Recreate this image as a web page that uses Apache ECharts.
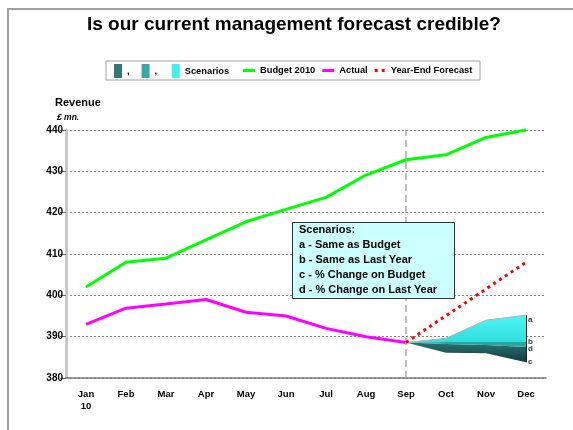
<!DOCTYPE html>
<html>
<head>
<meta charset="utf-8">
<script src="https://cdn.jsdelivr.net/npm/echarts@6/dist/echarts.min.js"></script>
<style>
html,body{margin:0;padding:0;background:#fff;}
#chart{width:573px;height:430px;}
</style>
</head>
<body>
<div id="chart"></div>
<script>
// ---- data ----
const months = ['Jan','Feb','Mar','Apr','May','Jun','Jul','Aug','Sep','Oct','Nov','Dec'];
const xLabels = ['Jan\n10','Feb','Mar','Apr','May','Jun','Jul','Aug','Sep','Oct','Nov','Dec'];
const budget = [402, 408, 409, 413.4, 417.8, 420.8, 423.7, 429.1, 432.8, 434, 438.2, 440];
const actual = [393, 396.9, 397.9, 399, 395.9, 395, 392, 390, 388.6, '-', '-', '-'];
const forecast = ['-','-','-','-','-','-','-','-', 388.6, '-', '-', 408];
const scenA = ['-','-','-','-','-','-','-','-', 388.6, 389.6, 394, 395.2];
const scenB = ['-','-','-','-','-','-','-','-', 388.6, 388.7, 388.7, 388.7];
const scenD = ['-','-','-','-','-','-','-','-', 388.6, 388.2, 388, 387.5];
const scenC = ['-','-','-','-','-','-','-','-', 388.6, 386.1, 386, 383.8];
const scenLetters = ['a','b','d','c'];
const yTicks = {min: 380, max: 440, interval: 10};
const boxLines = ['Scenarios:','a - Same as Budget','b - Same as Last Year','c - % Change on Budget','d - % Change on Last Year'];

const FONT = '"Liberation Sans", Arial, sans-serif';
const diff = (top, bot) => top.map((v, i) => (v === '-' || bot[i] === '-') ? '-' : +(v - bot[i]).toFixed(2));
const last = a => a[a.length - 1];

const chart = echarts.init(document.getElementById('chart'), null, {renderer: 'canvas'});

const option = {
  animation: false,
  title: {
    text: 'Is our current management forecast credible?',
    left: 82, top: 10,
    textStyle: {fontFamily: FONT, fontSize: 19, fontWeight: 'bold', color: '#000'}
  },
  legend: [
    {
      left: 109, top: 59, itemWidth: 8, itemHeight: 14, itemGap: 12,
      icon: 'rect',
      textStyle: {fontFamily: FONT, fontSize: 9.3, fontWeight: 'bold', color: '#000'},
      data: [
        {name: ',', itemStyle: {color: '#357676'}},
        {name: ', ', itemStyle: {color: '#3aa8a8'}},
        {name: 'Scenarios', itemStyle: {color: '#45eeee'}}
      ]
    },
    {
      left: 238, top: 61, itemWidth: 12, itemHeight: 3, itemGap: 7,
      textStyle: {fontFamily: FONT, fontSize: 9.3, fontWeight: 'bold', color: '#000'},
      data: [
        {name: 'Budget 2010', icon: 'rect', itemStyle: {color: '#00ff00'}},
        {name: 'Actual', icon: 'rect', itemStyle: {color: '#ff00ff'}},
        {name: 'Year-End Forecast', icon: 'path://M0,0h3v3h-3zM7,0h3v3h-3z', itemStyle: {color: '#ff0000'}}
      ]
    }
  ],
  grid: {left: 66, right: 27, top: 130, bottom: 52},
  xAxis: {
    type: 'category', data: months, boundaryGap: true,
    axisLine: {lineStyle: {color: '#777', width: 1.5}},
    axisTick: {alignWithLabel: true, length: 7, lineStyle: {color: '#999', width: 1}},
    axisLabel: {
      fontFamily: FONT, fontSize: 9.5, fontWeight: 'bold', color: '#000', margin: 10, lineHeight: 12,
      formatter: (v, i) => xLabels[i]
    }
  },
  yAxis: {
    type: 'value', min: yTicks.min, max: yTicks.max, interval: yTicks.interval,
    axisLine: {show: true, lineStyle: {color: '#c8c8c8', width: 3}},
    axisTick: {show: true, length: 6, lineStyle: {color: '#666'}},
    axisLabel: {fontFamily: FONT, fontSize: 10, fontWeight: 'bold', color: '#000', margin: 3},
    splitLine: {lineStyle: {color: '#888', type: [2, 2], width: 1}}
  },
  series: [
    {
      name: 'c-base', type: 'line', stack: 'sc', data: scenC, symbol: 'none',
      lineStyle: {opacity: 0}, silent: true, z: 2
    },
    {
      name: ',', type: 'line', stack: 'sc', data: diff(scenD, scenC), symbol: 'none',
      itemStyle: {color: '#357676'},
      lineStyle: {width: 0},
      areaStyle: {opacity: 1, color: new echarts.graphic.LinearGradient(0, 0, 0, 1, [
        {offset: 0, color: '#2b7272'}, {offset: 1, color: '#103c3c'}])},
      z: 2
    },
    {
      name: ', ', type: 'line', stack: 'sc', data: diff(scenB, scenD), symbol: 'none',
      itemStyle: {color: '#3aa8a8'},
      lineStyle: {width: 0},
      areaStyle: {opacity: 1, color: '#2ba4a4'},
      z: 2
    },
    {
      name: 'Scenarios', type: 'line', stack: 'sc', data: diff(scenA, scenB), symbol: 'none',
      itemStyle: {color: '#45eeee'},
      lineStyle: {width: 1, color: '#b0b0b0'},
      areaStyle: {opacity: 1, color: new echarts.graphic.LinearGradient(0, 0, 0, 1, [
        {offset: 0, color: '#50f4f4'}, {offset: 1, color: '#2fdede'}])},
      markLine: {
        silent: true, symbol: 'none', label: {show: false},
        lineStyle: {color: '#222', width: 1, type: 'solid'},
        data: [[{coord: ['Dec', last(scenA)]}, {coord: ['Dec', last(scenC)]}]]
      },
      z: 2
    },
    {
      name: 'Budget 2010', type: 'line', data: budget, symbol: 'none',
      itemStyle: {color: '#00ff00'},
      lineStyle: {color: '#00ff00', width: 3}, z: 4
    },
    {
      name: 'Actual', type: 'line', data: actual, symbol: 'none',
      itemStyle: {color: '#ff00ff'},
      lineStyle: {color: '#ff00ff', width: 3}, z: 4,
      markLine: {
        silent: true, symbol: 'none', label: {show: false},
        lineStyle: {color: '#aaa', width: 1.5, type: [7, 4]},
        data: [{xAxis: 'Sep'}]
      }
    },
    {
      name: 'Year-End Forecast', type: 'line', data: forecast, symbol: 'none', connectNulls: true,
      itemStyle: {color: '#ff0000'},
      lineStyle: {color: '#ff0000', width: 3, type: [3, 4]}, z: 5
    },
    {
      name: 'scenario-labels', type: 'scatter', symbolSize: 0, silent: true, z: 6,
      data: [last(scenA), last(scenB), last(scenD), last(scenC)].map((v, i) => ({
        value: ['Dec', v],
        label: {
          show: true, formatter: scenLetters[i], position: 'right', distance: 2,
          offset: [0, [5, 0, 2, 0][i]],
          fontFamily: FONT, fontSize: 8, fontWeight: 'bold', color: '#000'
        }
      }))
    }
  ],
  graphic: [
    {type: 'rect', shape: {x: 8, y: 9, width: 700, height: 600}, style: {fill: 'none', stroke: '#a0a0a0', lineWidth: 2}, z: -10, silent: true},
    {type: 'rect', shape: {x: 106, y: 61, width: 374, height: 19}, style: {fill: '#fff', stroke: '#a0a0a0', lineWidth: 1}, z: -5, silent: true},
    {type: 'text', x: 55, y: 97, style: {text: 'Revenue', font: 'bold 11px ' + FONT, fill: '#000'}},
    {type: 'text', x: 57, y: 113, style: {text: '£ mn.', font: 'italic bold 8.5px ' + FONT, fill: '#000'}},
    {type: 'rect', shape: {x: 292.5, y: 222.5, width: 162, height: 76}, style: {fill: '#ccffff', stroke: '#333', lineWidth: 1}, z: 50, silent: true},
    {type: 'text', x: 299, y: 222, z: 51, style: {text: boxLines.join('\n'), font: 'bold 11px ' + FONT, fill: '#000', lineHeight: 15.2}}
  ]
};
chart.setOption(option);
</script>
</body>
</html>
